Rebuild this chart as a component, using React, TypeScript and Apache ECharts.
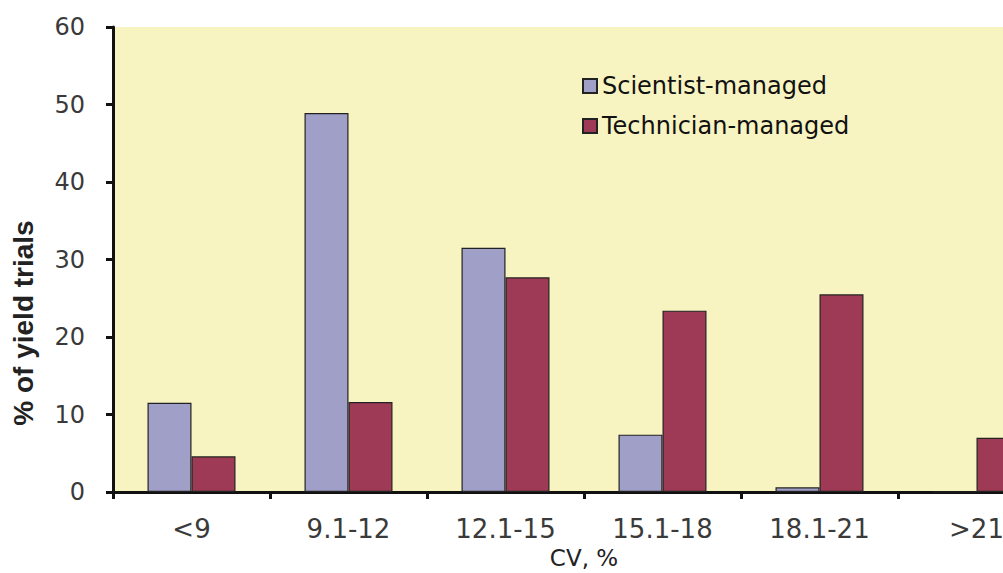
import React, { useEffect, useRef } from "react";
import * as echarts from "echarts";

const categories = ["<9", "9.1-12", "12.1-15", "15.1-18", "18.1-21", ">21"];
const scientist = [11.5, 48.9, 31.5, 7.4, 0.6, 0];
const technician = [4.6, 11.6, 27.7, 23.4, 25.5, 7.0];
const yTicks = { min: 0, max: 60, interval: 10 };
const yTitle = "% of yield trials";
const xTitle = "CV, %";

export default function App() {
  const ref = useRef<HTMLDivElement>(null);
  useEffect(() => {
    if (!ref.current) return;
    const chart = echarts.init(ref.current, null, { renderer: "svg" });
    const wide = "'DejaVu Sans', Verdana, sans-serif";
    const arial = "'Liberation Sans', Arial, sans-serif";
    chart.setOption({
      animation: false,
      backgroundColor: "#ffffff",
      textStyle: { fontFamily: wide },
      grid: {
        left: 113,
        top: 27,
        right: 5,
        height: 465,
        show: true,
        backgroundColor: "#F7F4C2",
        borderWidth: 0,
        outerBoundsMode: "none",
        containLabel: false,
      },
      graphic: [
        {
          type: "text",
          x: 23,
          y: 323,
          rotation: Math.PI / 2,
          style: {
            text: yTitle,
            fontSize: 28,
            fontWeight: "bold",
            fontFamily: arial,
            fill: "#222",
            align: "center",
            verticalAlign: "middle",
          },
        },
      ],
      legend: {
        orient: "vertical",
        left: 577,
        top: 69,
        itemWidth: 14,
        itemHeight: 14,
        itemGap: 16,
        icon: "rect",
        textStyle: { fontSize: 24, color: "#111", fontFamily: wide },
        data: ["Scientist-managed", "Technician-managed"],
      },
      xAxis: {
        type: "category",
        data: categories,
        name: xTitle,
        nameLocation: "middle",
        nameGap: 43,
        nameTextStyle: { fontSize: 23, color: "#222", fontFamily: wide },
        axisLine: { lineStyle: { color: "#111", width: 3 } },
        axisTick: { show: true, length: 7, lineStyle: { color: "#111", width: 3 } },
        axisLabel: { fontSize: 26, color: "#3a3a3a", margin: 24, fontFamily: wide },
      },
      yAxis: {
        type: "value",
        min: yTicks.min,
        max: yTicks.max,
        interval: yTicks.interval,
        axisLine: { show: true, lineStyle: { color: "#111", width: 3 } },
        axisTick: { show: true, length: 7, lineStyle: { color: "#111", width: 3 } },
        axisLabel: { fontSize: 24, color: "#3a3a3a", margin: 28, fontFamily: wide },
        splitLine: { show: false },
      },
      series: [
        {
          name: "Scientist-managed",
          type: "bar",
          data: scientist,
          barWidth: 44,
          barGap: "0%",
          itemStyle: { color: "#A09FC8", borderColor: "#222", borderWidth: 1.2 },
        },
        {
          name: "Technician-managed",
          type: "bar",
          data: technician,
          barWidth: 44,
          barGap: "0%",
          itemStyle: { color: "#9E3A55", borderColor: "#222", borderWidth: 1.2 },
        },
      ],
    });
    return () => chart.dispose();
  }, []);
  return (
    <div
      style={{
        position: "absolute",
        left: 0,
        top: 0,
        width: 1003,
        height: 573,
        overflow: "hidden",
      }}
    >
      <div ref={ref} style={{ width: 1060, height: 573 }} />
    </div>
  );
}
